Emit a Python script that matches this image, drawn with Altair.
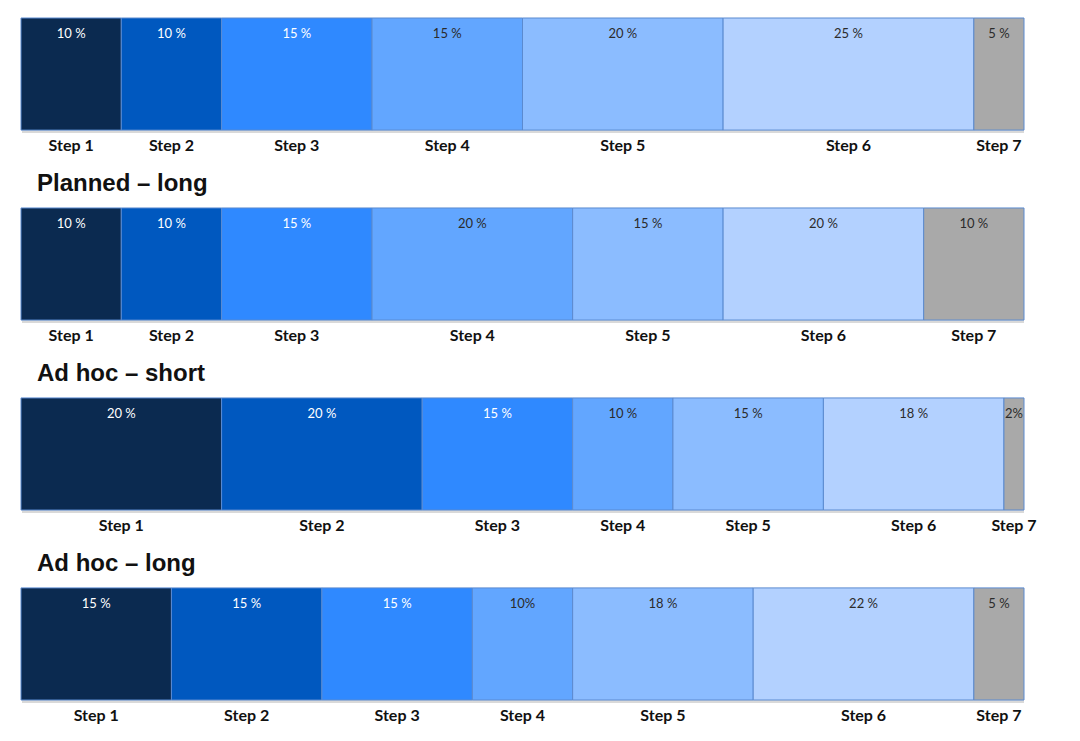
import altair as alt
import pandas as pd

steps = ["Step 1", "Step 2", "Step 3", "Step 4", "Step 5", "Step 6", "Step 7"]
step_colors = ["#0b2a50", "#0058bf", "#2f89ff", "#62a6ff", "#8bbcff", "#b3d1ff", "#a9a9a9"]

titles = ["", "Planned – long", "Ad hoc – short", "Ad hoc – long"]

shares_0 = [10, 10, 15, 15, 20, 25, 5]
shares_1 = [10, 10, 15, 20, 15, 20, 10]
shares_2 = [20, 20, 15, 10, 15, 18, 2]
shares_3 = [15, 15, 15, 10, 18, 22, 5]

labels_0 = ["10 %", "10 %", "15 %", "15 %", "20 %", "25 %", "5 %"]
labels_1 = ["10 %", "10 %", "15 %", "20 %", "15 %", "20 %", "10 %"]
labels_2 = ["20 %", "20 %", "15 %", "10 %", "15 %", "18 %", "2%"]
labels_3 = ["15 %", "15 %", "15 %", "10%", "18 %", "22 %", "5 %"]

all_shares = [shares_0, shares_1, shares_2, shares_3]
all_labels = [labels_0, labels_1, labels_2, labels_3]

records = []
for r, (sh, lb) in enumerate(zip(all_shares, all_labels)):
    start = 0
    for i, (v, l) in enumerate(zip(sh, lb)):
        records.append({
            "row": r, "step": steps[i], "stepnum": i + 1,
            "start": start, "end": start + v, "mid": start + v / 2, "label": l,
        })
        start += v
df = pd.DataFrame(records)

title_df = pd.DataFrame({"row": list(range(4)), "title": titles})
title_df = title_df[title_df["title"] != ""]
shadow_df = pd.DataFrame({"row": list(range(4)), "start": [0] * 4, "end": [100] * 4})

xscale = alt.Scale(domain=[0, 100], nice=False, zero=False)
yscale = alt.Scale(paddingInner=0.41, paddingOuter=0)

base = alt.Chart(df)

shadow = alt.Chart(shadow_df).mark_rect(
    color="#000000", opacity=0.15, xOffset=1, yOffset=3
).encode(
    x=alt.X("start:Q", scale=xscale, axis=None),
    x2="end:Q",
    y=alt.Y("row:O", scale=yscale, axis=None),
)

bars = base.mark_rect(stroke="#5a8ad0", strokeWidth=1).encode(
    x=alt.X("start:Q", scale=xscale, axis=None),
    x2="end:Q",
    y=alt.Y("row:O", scale=yscale, axis=None),
    color=alt.Color("step:N", scale=alt.Scale(domain=steps, range=step_colors), legend=None),
)

pct = base.mark_text(font="Lato", fontSize=13, dy=-40, baseline="middle").encode(
    x=alt.X("mid:Q", scale=xscale),
    y=alt.Y("row:O", scale=yscale),
    text="label:N",
    color=alt.condition("datum.stepnum <= 3", alt.value("#ffffff"), alt.value("#2b2b2b")),
)

step_lbl = base.mark_text(font="Lato", fontSize=16, fontWeight="bold", dy=72,
                          baseline="middle", color="#111111").encode(
    x=alt.X("mid:Q", scale=xscale),
    y=alt.Y("row:O", scale=yscale),
    text="step:N",
)

ttl = alt.Chart(title_df).mark_text(
    font="Liberation Sans", fontSize=24, fontWeight="bold", align="left",
    baseline="middle", dy=-80, dx=16, color="#111111"
).encode(
    x=alt.value(0),
    y=alt.Y("row:O", scale=yscale),
    text="title:N",
)

chart = alt.layer(shadow, bars, pct, step_lbl, ttl).properties(
    width=1003, height=682,
    padding={"left": 12, "top": 9, "right": 5, "bottom": 5},
).configure_view(stroke=None)

chart.save("out.html", embed_options={"renderer": "svg", "actions": False})
